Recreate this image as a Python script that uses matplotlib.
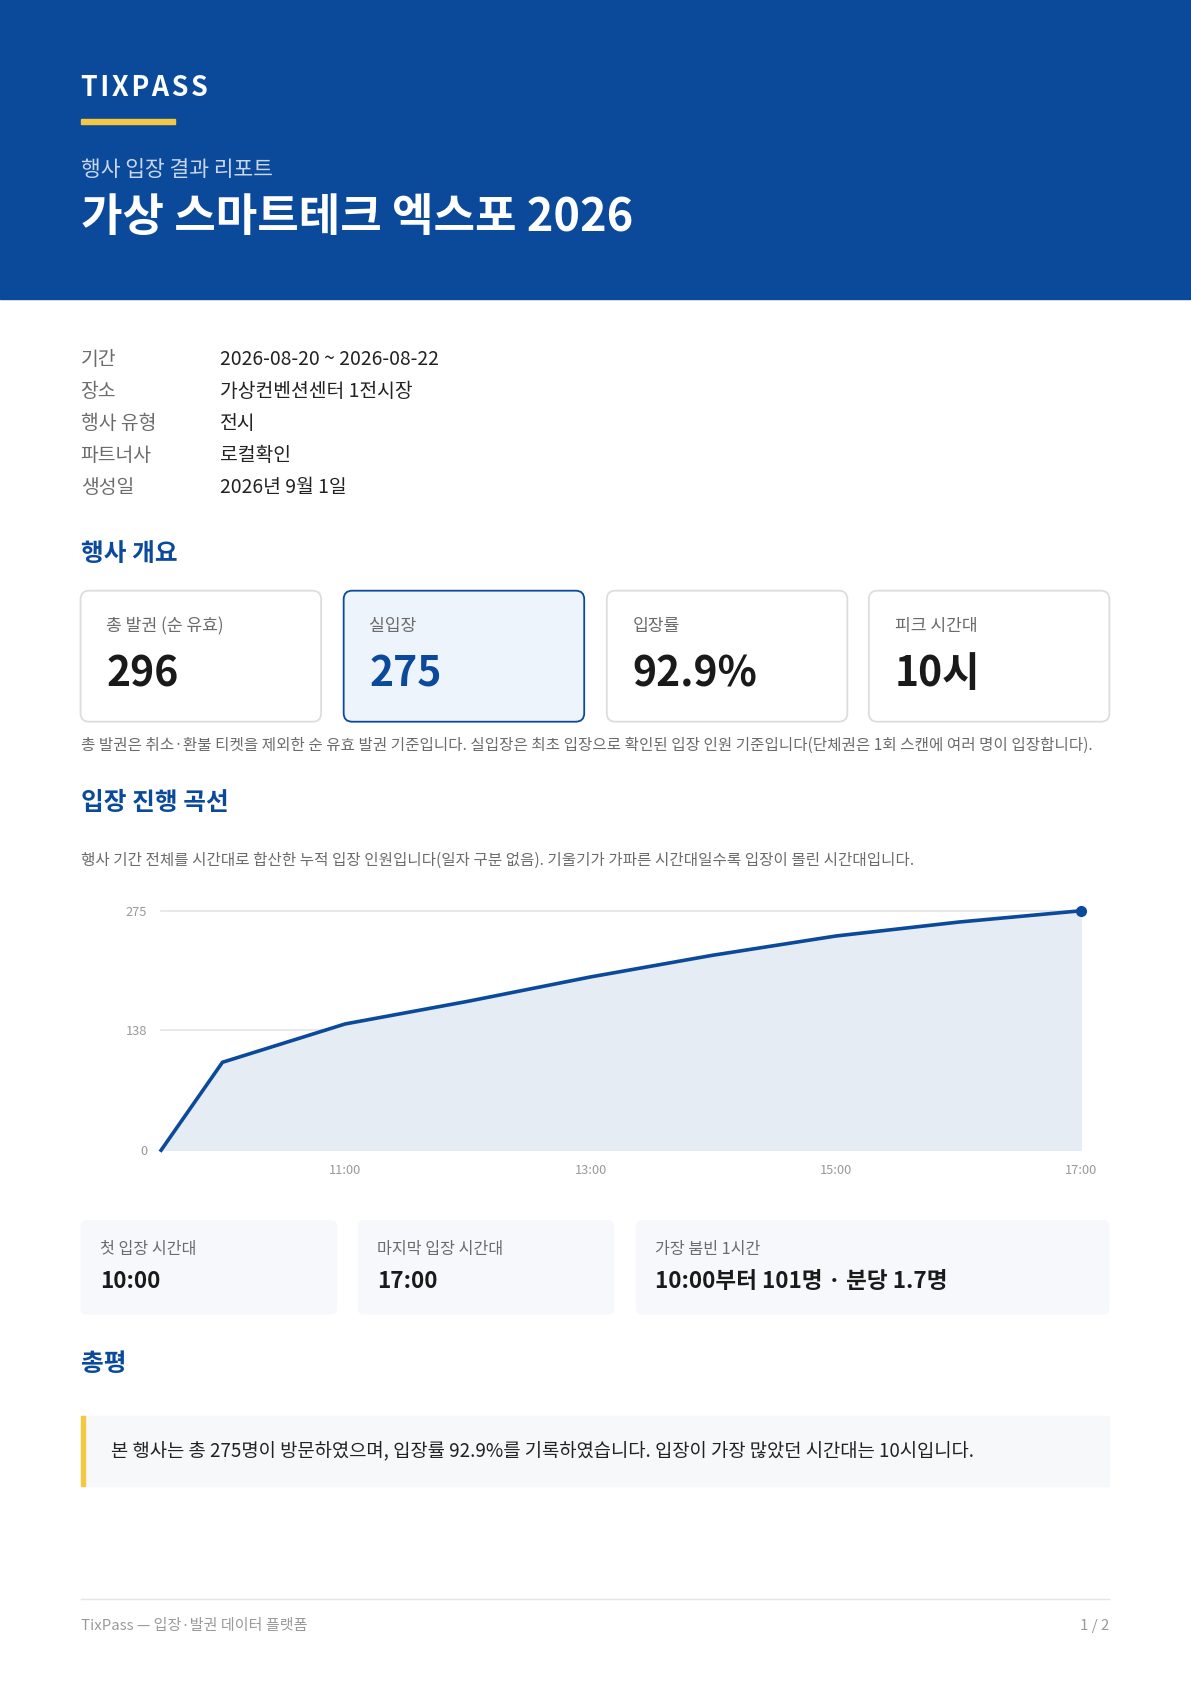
import matplotlib.pyplot as plt
from matplotlib.patches import Rectangle, FancyBboxPatch

plt.rcParams['font.family'] = ['Noto Sans CJK KR', 'DejaVu Sans']

# ---------- DATA ----------
hours = [9.5, 10, 11, 12, 13, 14, 15, 16, 17]
cumulative = [0, 101, 145, 171, 199, 224, 246, 262, 275]
y_ticks = [0, 138, 275]
x_ticks = [11, 13, 15, 17]
x_tick_labels = ["11:00", "13:00", "15:00", "17:00"]

info_labels = ["기간", "장소", "행사 유형", "파트너사", "생성일"]
info_values = ["2026-08-20 ~ 2026-08-22", "가상컨벤션센터 1전시장", "전시", "로컬확인", "2026년 9월 1일"]
card_labels = ["총 발권 (순 유효)", "실입장", "입장률", "피크 시간대"]
card_values = ["296", "275", "92.9%", "10시"]
stat_labels = ["첫 입장 시간대", "마지막 입장 시간대", "가장 붐빈 1시간"]
stat_values = ["10:00", "17:00", "10:00부터 101명 · 분당 1.7명"]

# ---------- LAYOUT (reference pixel space 1109 x 1568) ----------
W, H = 1109, 1568
S = 1191 / W
BLUE = "#0B4A9B"
YELLOW = "#F5C842"

def fs(px):
    return px * S * 0.72

fig = plt.figure(figsize=(11.91, 16.84), dpi=100)
bg = fig.add_axes([0, 0, 1, 1])
bg.set_xlim(0, W)
bg.set_ylim(H, 0)
bg.axis("off")

def txt(x, y, s, size, color="#222222", weight="normal", ha="left", **kw):
    bg.text(x, y, s, fontsize=fs(size), color=color, weight=weight, ha=ha, va="center", **kw)

# header
bg.add_patch(Rectangle((0, 0), W, 278, color=BLUE))
txt(75, 82, "T I X P A S S".replace(" ", "\u200a"), 25, "white", "bold")
bg.add_patch(Rectangle((75, 111), 88, 4, color=YELLOW))
txt(75, 158, "행사 입장 결과 리포트", 20, "#C9D8F0")
txt(75, 203, "가상 스마트테크 엑스포 2026", 42, "white", "bold")

# info rows
for i, (lab, val) in enumerate(zip(info_labels, info_values)):
    y = 335 + i * 29.8
    txt(75, y, lab, 18, "#6b6b6b")
    txt(205, y, val, 18, "#222222")

txt(75, 516, "행사 개요", 23, BLUE, "bold")

card_x = [75, 320, 565, 809]
for i, x in enumerate(card_x):
    hl = i == 1
    bg.add_patch(FancyBboxPatch((x, 550), 224, 122, boxstyle="round,pad=0,rounding_size=8",
                                fc="#EEF4FC" if hl else "white",
                                ec=BLUE if hl else "#DDDDDD", lw=1.3))
    txt(x + 24, 583, card_labels[i], 16, "#6b6b6b")
    txt(x + 24, 628, card_values[i], 38, BLUE if hl else "#1a1a1a", "bold")

txt(75, 694, "총 발권은 취소·환불 티켓을 제외한 순 유효 발권 기준입니다. 실입장은 최초 입장으로 확인된 입장 인원 기준입니다(단체권은 1회 스캔에 여러 명이 입장합니다).",
    14.5, "#6b6b6b")

txt(75, 748, "입장 진행 곡선", 23, BLUE, "bold")
txt(75, 801, "행사 기간 전체를 시간대로 합산한 누적 입장 인원입니다(일자 구분 없음). 기울기가 가파른 시간대일수록 입장이 몰린 시간대입니다.",
    14.5, "#6b6b6b")

# chart
l, r, t, b = 150, 1007, 848, 1071
ax = fig.add_axes([l / W, 1 - b / H, (r - l) / W, (b - t) / H])
ax.fill_between(hours, cumulative, color="#E6ECF4", zorder=1)
ax.plot(hours, cumulative, color=BLUE, lw=2.6, zorder=3, clip_on=False)
ax.plot(hours[-1], cumulative[-1], "o", color=BLUE, ms=7, zorder=4, clip_on=False)
ax.set_xlim(9.5, 17)
ax.set_ylim(0, 275)
for yv in y_ticks:
    ax.axhline(yv, color="#E2E4E8", lw=1.2, zorder=0, clip_on=False)
ax.set_yticks(y_ticks)
ax.set_yticklabels([str(v) for v in y_ticks])
ax.set_xticks(x_ticks)
ax.set_xticklabels(x_tick_labels)
ax.tick_params(length=0, labelsize=fs(12), labelcolor="#999999")
ax.tick_params(axis="y", pad=10)
ax.tick_params(axis="x", pad=10)
for sp in ax.spines.values():
    sp.set_visible(False)
ax.patch.set_alpha(0)

# stat boxes
stat_x = [(75, 239), (333, 239), (592, 441)]
for (x, w), lab, val in zip(stat_x, stat_labels, stat_values):
    bg.add_patch(FancyBboxPatch((x, 1136), w, 88, boxstyle="round,pad=0,rounding_size=6",
                                fc="#F6F8FB", ec="none"))
    txt(x + 18, 1163, lab, 15, "#6b6b6b")
    txt(x + 18, 1193, val, 21, "#1a1a1a", "bold")

txt(75, 1270, "총평", 23, BLUE, "bold")
bg.add_patch(Rectangle((75, 1318), 958, 66, color="#F7F8FA"))
bg.add_patch(Rectangle((75, 1318), 4, 66, color=YELLOW))
txt(103, 1351, "본 행사는 총 275명이 방문하였으며, 입장률 92.9%를 기록하였습니다. 입장이 가장 많았던 시간대는 10시입니다.",
    17.5, "#222222")

# footer
bg.plot([75, 1033], [1489, 1489], color="#E5E5E5", lw=1)
txt(75, 1514, "TixPass — 입장·발권 데이터 플랫폼", 14, "#999999")
txt(1033, 1514, "1 / 2", 14, "#999999", ha="right")

fig.savefig("out.png", dpi=100)
